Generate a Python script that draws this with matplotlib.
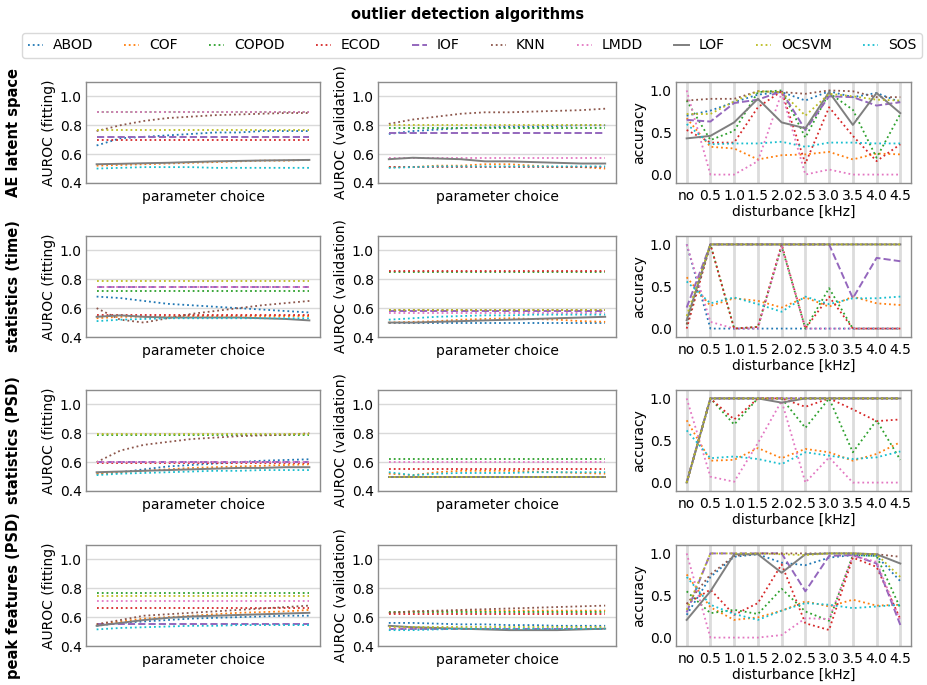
import numpy as np
import matplotlib
matplotlib.use("Agg")
import matplotlib.pyplot as plt
from matplotlib.lines import Line2D

# ---------------------------------------------------------------- data
algorithms = ["ABOD", "COF", "COPOD", "ECOD", "IOF", "KNN", "LMDD", "LOF", "OCSVM", "SOS"]
row_names = ["AE latent space", "statistics (time)", "statistics (PSD)", "peak features (PSD)"]
disturbances = ["no", "0.5", "1.0", "1.5", "2.0", "2.5", "3.0", "3.5", "4.0", "4.5"]

# AUROC over the parameter sweep, fitting set
fit_ae = {
    "ABOD": [0.66, 0.71, 0.72, 0.73, 0.74, 0.75, 0.75, 0.76, 0.76, 0.76],
    "COF": [0.52, 0.525, 0.53, 0.535, 0.54, 0.545, 0.55, 0.555, 0.555, 0.56],
    "COPOD": [0.89, 0.89, 0.89, 0.89, 0.89, 0.89, 0.89, 0.89, 0.89, 0.89],
    "ECOD": [0.70, 0.70, 0.70, 0.70, 0.70, 0.70, 0.70, 0.70, 0.70, 0.70],
    "IOF": [0.72, 0.72, 0.72, 0.72, 0.72, 0.72, 0.72, 0.72, 0.72, 0.72],
    "KNN": [0.76, 0.80, 0.83, 0.85, 0.86, 0.87, 0.875, 0.88, 0.885, 0.885],
    "LMDD": [0.89, 0.89, 0.89, 0.89, 0.89, 0.89, 0.89, 0.89, 0.89, 0.89],
    "LOF": [0.53, 0.533, 0.537, 0.54, 0.545, 0.55, 0.553, 0.556, 0.558, 0.56],
    "OCSVM": [0.77, 0.77, 0.77, 0.77, 0.77, 0.77, 0.77, 0.77, 0.77, 0.77],
    "SOS": [0.50, 0.505, 0.51, 0.51, 0.51, 0.505, 0.505, 0.505, 0.505, 0.505],
}
fit_time = {
    "ABOD": [0.68, 0.67, 0.65, 0.63, 0.62, 0.61, 0.60, 0.59, 0.58, 0.57],
    "COF": [0.53, 0.54, 0.54, 0.54, 0.545, 0.545, 0.545, 0.545, 0.545, 0.545],
    "COPOD": [0.72, 0.72, 0.72, 0.72, 0.72, 0.72, 0.72, 0.72, 0.72, 0.72],
    "ECOD": [0.55, 0.55, 0.55, 0.55, 0.55, 0.55, 0.55, 0.55, 0.55, 0.55],
    "IOF": [0.75, 0.75, 0.75, 0.75, 0.75, 0.75, 0.75, 0.75, 0.75, 0.75],
    "KNN": [0.60, 0.52, 0.50, 0.53, 0.56, 0.58, 0.60, 0.62, 0.635, 0.65],
    "LMDD": [0.75, 0.75, 0.75, 0.75, 0.75, 0.75, 0.75, 0.75, 0.75, 0.75],
    "LOF": [0.54, 0.55, 0.54, 0.535, 0.535, 0.535, 0.535, 0.53, 0.525, 0.515],
    "OCSVM": [0.79, 0.79, 0.79, 0.79, 0.79, 0.79, 0.79, 0.79, 0.79, 0.79],
    "SOS": [0.51, 0.52, 0.525, 0.53, 0.53, 0.53, 0.53, 0.53, 0.53, 0.53],
}
fit_psd = {
    "ABOD": [0.52, 0.53, 0.55, 0.57, 0.58, 0.59, 0.60, 0.61, 0.615, 0.62],
    "COF": [0.52, 0.53, 0.54, 0.55, 0.56, 0.565, 0.57, 0.575, 0.58, 0.585],
    "COPOD": [0.79, 0.79, 0.79, 0.79, 0.79, 0.79, 0.79, 0.79, 0.79, 0.79],
    "ECOD": [0.595, 0.595, 0.595, 0.595, 0.595, 0.595, 0.595, 0.595, 0.595, 0.595],
    "IOF": [0.60, 0.60, 0.60, 0.60, 0.60, 0.60, 0.60, 0.60, 0.60, 0.60],
    "KNN": [0.60, 0.68, 0.72, 0.74, 0.76, 0.77, 0.78, 0.785, 0.79, 0.80],
    "LMDD": [0.60, 0.60, 0.60, 0.60, 0.60, 0.60, 0.60, 0.60, 0.60, 0.60],
    "LOF": [0.53, 0.535, 0.54, 0.545, 0.55, 0.555, 0.56, 0.56, 0.565, 0.565],
    "OCSVM": [0.795, 0.795, 0.795, 0.795, 0.795, 0.795, 0.795, 0.795, 0.795, 0.795],
    "SOS": [0.51, 0.52, 0.525, 0.53, 0.535, 0.54, 0.54, 0.545, 0.545, 0.545],
}
fit_peak = {
    "ABOD": [0.54, 0.56, 0.57, 0.58, 0.59, 0.595, 0.60, 0.605, 0.61, 0.61],
    "COF": [0.55, 0.57, 0.59, 0.60, 0.61, 0.62, 0.63, 0.635, 0.64, 0.65],
    "COPOD": [0.77, 0.77, 0.77, 0.77, 0.77, 0.77, 0.77, 0.77, 0.77, 0.77],
    "ECOD": [0.66, 0.66, 0.66, 0.66, 0.66, 0.66, 0.66, 0.66, 0.66, 0.66],
    "IOF": [0.55, 0.55, 0.55, 0.55, 0.55, 0.55, 0.55, 0.55, 0.55, 0.55],
    "KNN": [0.55, 0.58, 0.61, 0.62, 0.63, 0.64, 0.65, 0.66, 0.67, 0.68],
    "LMDD": [0.71, 0.71, 0.71, 0.71, 0.71, 0.71, 0.71, 0.71, 0.71, 0.71],
    "LOF": [0.54, 0.56, 0.58, 0.595, 0.605, 0.61, 0.615, 0.62, 0.625, 0.63],
    "OCSVM": [0.75, 0.75, 0.75, 0.75, 0.75, 0.75, 0.75, 0.75, 0.75, 0.75],
    "SOS": [0.515, 0.525, 0.53, 0.535, 0.54, 0.54, 0.545, 0.545, 0.545, 0.545],
}

# AUROC over the parameter sweep, validation set
val_ae = {
    "ABOD": [0.74, 0.76, 0.77, 0.78, 0.785, 0.79, 0.79, 0.795, 0.80, 0.80],
    "COF": [0.51, 0.51, 0.52, 0.52, 0.53, 0.53, 0.52, 0.51, 0.51, 0.50],
    "COPOD": [0.78, 0.78, 0.78, 0.78, 0.78, 0.78, 0.78, 0.78, 0.78, 0.78],
    "ECOD": [0.51, 0.51, 0.51, 0.51, 0.51, 0.51, 0.51, 0.51, 0.51, 0.51],
    "IOF": [0.745, 0.745, 0.745, 0.745, 0.745, 0.745, 0.745, 0.745, 0.745, 0.745],
    "KNN": [0.81, 0.84, 0.86, 0.88, 0.89, 0.89, 0.895, 0.90, 0.905, 0.915],
    "LMDD": [0.57, 0.57, 0.57, 0.57, 0.57, 0.57, 0.57, 0.57, 0.57, 0.57],
    "LOF": [0.565, 0.575, 0.57, 0.565, 0.55, 0.55, 0.545, 0.54, 0.535, 0.535],
    "OCSVM": [0.80, 0.80, 0.80, 0.80, 0.80, 0.80, 0.80, 0.80, 0.80, 0.80],
    "SOS": [0.505, 0.51, 0.515, 0.515, 0.515, 0.515, 0.515, 0.515, 0.515, 0.515],
}
val_time = {
    "ABOD": [0.50, 0.50, 0.50, 0.50, 0.50, 0.50, 0.50, 0.50, 0.50, 0.50],
    "COF": [0.50, 0.505, 0.51, 0.52, 0.525, 0.53, 0.525, 0.52, 0.51, 0.505],
    "COPOD": [0.85, 0.85, 0.85, 0.85, 0.85, 0.85, 0.85, 0.85, 0.85, 0.85],
    "ECOD": [0.86, 0.86, 0.86, 0.86, 0.86, 0.86, 0.86, 0.86, 0.86, 0.86],
    "IOF": [0.58, 0.58, 0.58, 0.58, 0.58, 0.58, 0.58, 0.58, 0.58, 0.58],
    "KNN": [0.585, 0.585, 0.585, 0.585, 0.585, 0.585, 0.585, 0.585, 0.585, 0.585],
    "LMDD": [0.565, 0.565, 0.565, 0.565, 0.565, 0.565, 0.565, 0.565, 0.565, 0.565],
    "LOF": [0.50, 0.50, 0.505, 0.51, 0.515, 0.52, 0.525, 0.53, 0.535, 0.54],
    "OCSVM": [0.585, 0.585, 0.585, 0.585, 0.585, 0.585, 0.585, 0.585, 0.585, 0.585],
    "SOS": [0.52, 0.53, 0.54, 0.545, 0.55, 0.55, 0.555, 0.555, 0.555, 0.555],
}
val_psd = {
    "ABOD": [0.50, 0.50, 0.50, 0.50, 0.50, 0.50, 0.50, 0.50, 0.50, 0.50],
    "COF": [0.52, 0.51, 0.53, 0.54, 0.54, 0.54, 0.535, 0.53, 0.525, 0.52],
    "COPOD": [0.62, 0.62, 0.62, 0.62, 0.62, 0.62, 0.62, 0.62, 0.62, 0.62],
    "ECOD": [0.555, 0.555, 0.555, 0.555, 0.555, 0.555, 0.555, 0.555, 0.555, 0.555],
    "IOF": [0.50, 0.50, 0.50, 0.50, 0.50, 0.50, 0.50, 0.50, 0.50, 0.50],
    "KNN": [0.50, 0.50, 0.50, 0.50, 0.50, 0.50, 0.50, 0.50, 0.50, 0.50],
    "LMDD": [0.60, 0.60, 0.60, 0.60, 0.60, 0.60, 0.60, 0.60, 0.60, 0.60],
    "LOF": [0.50, 0.50, 0.50, 0.50, 0.50, 0.50, 0.50, 0.50, 0.50, 0.50],
    "OCSVM": [0.50, 0.50, 0.50, 0.50, 0.50, 0.50, 0.50, 0.50, 0.50, 0.50],
    "SOS": [0.53, 0.51, 0.52, 0.525, 0.525, 0.525, 0.53, 0.53, 0.53, 0.53],
}
val_peak = {
    "ABOD": [0.56, 0.56, 0.555, 0.55, 0.55, 0.545, 0.545, 0.54, 0.54, 0.54],
    "COF": [0.63, 0.64, 0.64, 0.645, 0.645, 0.645, 0.645, 0.645, 0.645, 0.645],
    "COPOD": [0.635, 0.635, 0.635, 0.635, 0.635, 0.635, 0.635, 0.635, 0.635, 0.635],
    "ECOD": [0.62, 0.62, 0.62, 0.62, 0.62, 0.62, 0.62, 0.62, 0.62, 0.62],
    "IOF": [0.52, 0.52, 0.52, 0.52, 0.52, 0.52, 0.52, 0.52, 0.52, 0.52],
    "KNN": [0.63, 0.64, 0.645, 0.65, 0.655, 0.66, 0.665, 0.67, 0.675, 0.68],
    "LMDD": [0.52, 0.52, 0.52, 0.52, 0.52, 0.52, 0.52, 0.52, 0.52, 0.52],
    "LOF": [0.54, 0.53, 0.525, 0.52, 0.515, 0.51, 0.51, 0.51, 0.515, 0.52],
    "OCSVM": [0.53, 0.53, 0.53, 0.53, 0.53, 0.53, 0.53, 0.53, 0.53, 0.53],
    "SOS": [0.51, 0.51, 0.515, 0.52, 0.52, 0.52, 0.52, 0.52, 0.52, 0.52],
}

# accuracy per disturbance frequency
acc_ae = {
    "ABOD": [0.70, 0.76, 0.86, 0.95, 0.98, 0.88, 0.99, 0.92, 0.97, 0.86],
    "COF": [0.67, 0.33, 0.31, 0.18, 0.23, 0.24, 0.27, 0.18, 0.25, 0.24],
    "COPOD": [0.88, 0.41, 0.52, 0.98, 1.00, 0.44, 0.97, 0.77, 0.20, 0.72],
    "ECOD": [0.53, 0.38, 0.38, 0.80, 0.99, 0.13, 0.80, 0.46, 0.16, 0.36],
    "IOF": [0.65, 0.63, 0.85, 0.89, 0.99, 0.53, 0.93, 0.92, 0.82, 0.86],
    "KNN": [0.88, 0.90, 0.90, 0.99, 0.98, 0.96, 1.00, 0.99, 0.92, 0.92],
    "LMDD": [1.00, 0.00, 0.00, 0.16, 0.97, 0.00, 0.06, 0.00, 0.00, 0.00],
    "LOF": [0.43, 0.46, 0.62, 0.90, 0.62, 0.55, 0.98, 0.59, 0.97, 0.73],
    "OCSVM": [0.72, 0.72, 0.87, 0.99, 0.98, 0.70, 0.96, 0.93, 0.89, 0.88],
    "SOS": [0.60, 0.36, 0.37, 0.37, 0.39, 0.33, 0.38, 0.38, 0.37, 0.37],
}
acc_time = {
    "ABOD": [1.00, 0.00, 0.00, 0.00, 0.00, 0.00, 0.00, 0.00, 0.00, 0.00],
    "COF": [0.61, 0.27, 0.36, 0.33, 0.25, 0.37, 0.26, 0.38, 0.30, 0.28],
    "COPOD": [0.05, 1.00, 0.00, 0.02, 0.98, 0.00, 0.48, 0.00, 0.00, 0.00],
    "ECOD": [0.00, 1.00, 0.00, 0.02, 1.00, 0.00, 0.38, 0.00, 0.00, 0.00],
    "IOF": [0.25, 1.00, 1.00, 1.00, 1.00, 1.00, 1.00, 0.36, 0.84, 0.80],
    "KNN": [0.05, 1.00, 1.00, 1.00, 1.00, 1.00, 1.00, 1.00, 1.00, 1.00],
    "LMDD": [1.00, 0.08, 0.00, 0.00, 0.98, 0.00, 0.00, 0.00, 0.00, 0.00],
    "LOF": [0.10, 1.00, 1.00, 1.00, 1.00, 1.00, 1.00, 1.00, 1.00, 1.00],
    "OCSVM": [0.15, 1.00, 1.00, 1.00, 1.00, 1.00, 1.00, 1.00, 1.00, 1.00],
    "SOS": [0.56, 0.30, 0.37, 0.29, 0.20, 0.38, 0.29, 0.36, 0.36, 0.38],
}
acc_psd = {
    "ABOD": [0.00, 1.00, 1.00, 1.00, 1.00, 1.00, 1.00, 1.00, 1.00, 1.00],
    "COF": [0.74, 0.26, 0.27, 0.41, 0.29, 0.40, 0.36, 0.26, 0.34, 0.48],
    "COPOD": [0.00, 1.00, 0.69, 1.00, 1.00, 0.65, 1.00, 0.36, 0.74, 0.27],
    "ECOD": [0.00, 1.00, 0.75, 1.00, 1.00, 0.90, 1.00, 0.87, 0.73, 0.75],
    "IOF": [0.00, 1.00, 1.00, 1.00, 1.00, 1.00, 1.00, 1.00, 1.00, 1.00],
    "KNN": [0.00, 1.00, 1.00, 1.00, 1.00, 1.00, 1.00, 1.00, 1.00, 1.00],
    "LMDD": [1.00, 0.07, 0.01, 0.47, 0.97, 0.00, 0.30, 0.00, 0.00, 0.00],
    "LOF": [0.00, 1.00, 1.00, 1.00, 0.95, 1.00, 1.00, 1.00, 1.00, 1.00],
    "OCSVM": [0.00, 1.00, 1.00, 1.00, 1.00, 1.00, 1.00, 1.00, 1.00, 1.00],
    "SOS": [0.62, 0.29, 0.31, 0.28, 0.22, 0.36, 0.32, 0.28, 0.30, 0.37],
}
acc_peak = {
    "ABOD": [0.27, 0.72, 0.96, 0.99, 0.89, 0.86, 0.95, 0.98, 0.97, 0.67],
    "COF": [0.75, 0.36, 0.21, 0.24, 0.32, 0.43, 0.37, 0.45, 0.38, 0.39],
    "COPOD": [0.55, 0.29, 0.33, 0.28, 0.58, 0.31, 0.20, 0.98, 0.97, 0.35],
    "ECOD": [0.40, 0.57, 0.27, 0.41, 0.87, 0.17, 0.09, 0.95, 0.84, 0.22],
    "IOF": [0.30, 1.00, 1.00, 1.00, 1.00, 0.55, 0.97, 0.98, 0.88, 0.15],
    "KNN": [0.40, 0.75, 0.97, 1.00, 1.00, 1.00, 1.00, 1.00, 0.99, 0.96],
    "LMDD": [1.00, 0.00, 0.00, 0.00, 0.03, 0.23, 0.22, 0.97, 0.90, 0.20],
    "LOF": [0.21, 0.55, 0.99, 0.99, 0.77, 0.99, 1.00, 1.00, 0.99, 0.88],
    "OCSVM": [0.33, 1.00, 1.00, 1.00, 0.99, 0.98, 1.00, 1.00, 0.99, 0.72],
    "SOS": [0.72, 0.39, 0.28, 0.21, 0.32, 0.41, 0.39, 0.35, 0.37, 0.39],
}

fitting = [fit_ae, fit_time, fit_psd, fit_peak]
validation = [val_ae, val_time, val_psd, val_peak]
accuracy = [acc_ae, acc_time, acc_psd, acc_peak]

# ---------------------------------------------------------------- styling
palette = plt.rcParams["axes.prop_cycle"].by_key()["color"]
line_style = {name: dict(color=palette[i], ls=":", lw=1.3) for i, name in enumerate(algorithms)}
line_style["IOF"] = dict(color=palette[4], ls="--", lw=1.4)
line_style["LOF"] = dict(color=palette[7], ls="-", lw=1.4)

plt.rcParams.update({
    "font.family": "DejaVu Sans",
    "font.size": 10,
    "axes.edgecolor": "#8c8c8c",
    "axes.linewidth": 1.0,
    "xtick.major.size": 0,
    "ytick.major.size": 0,
    "xtick.major.pad": 4,
    "ytick.major.pad": 3,
})

W, H = 927, 685
fig = plt.figure(figsize=(W / 100, H / 100), dpi=100)


def box(x0, x1, y_bottom, height=101):
    return [x0 / W, 1 - y_bottom / H, (x1 - x0) / W, height / H]


col_x = [(86, 320), (378, 616), (676, 911)]
row_bottom = [183, 337, 491, 646]

for r in range(4):
    ax_fit = fig.add_axes(box(*col_x[0], row_bottom[r]))
    ax_val = fig.add_axes(box(*col_x[1], row_bottom[r]))
    ax_acc = fig.add_axes(box(*col_x[2], row_bottom[r]))

    for ax, data, lab in [(ax_fit, fitting[r], "AUROC (fitting)"),
                          (ax_val, validation[r], "AUROC (validation)")]:
        for name in algorithms:
            vals = data[name]
            ax.plot(np.arange(len(vals)), vals, **line_style[name])
        ax.set_ylim(0.4, 1.1)
        ax.set_yticks([0.4, 0.6, 0.8, 1.0])
        ax.set_xticks([])
        ax.grid(axis="y", color="#d9d9d9", lw=1.0)
        ax.set_axisbelow(True)
        ax.set_xlabel("parameter choice", labelpad=5)
        ax.set_ylabel(lab, labelpad=3)

    for name in algorithms:
        vals = accuracy[r][name]
        ax_acc.plot(np.arange(len(disturbances)), vals, **line_style[name])
    ax_acc.set_ylim(-0.1, 1.1)
    ax_acc.set_yticks([0.0, 0.5, 1.0])
    ax_acc.set_xticks(np.arange(len(disturbances)))
    ax_acc.set_xticklabels(disturbances)
    ax_acc.grid(axis="x", color="#dcdcdc", lw=2.0)
    ax_acc.set_axisbelow(True)
    ax_acc.set_xlabel("disturbance [kHz]", labelpad=2)
    ax_acc.set_ylabel("accuracy", labelpad=3)

    yc = 1 - (row_bottom[r] - 50.5) / H
    fig.text(14 / W, yc, row_names[r], rotation=90, ha="center", va="center",
             fontsize=10.5, fontweight="bold")

handles = [Line2D([], [], **line_style[n]) for n in algorithms]
fig.legend(handles, algorithms, loc="lower left", ncol=10, mode="expand",
           bbox_to_anchor=(22 / W, 1 - 58 / H, (922 - 22) / W, 22 / H),
           handlelength=1.1, handletextpad=0.7, borderaxespad=0.0,
           frameon=True, fancybox=True, edgecolor="#d0d0d0", fontsize=10)

fig.text(468 / W, 1 - 14 / H, "outlier detection algorithms", ha="center", va="center",
         fontsize=10.5, fontweight="bold")

fig.savefig("out.png", dpi=100)
